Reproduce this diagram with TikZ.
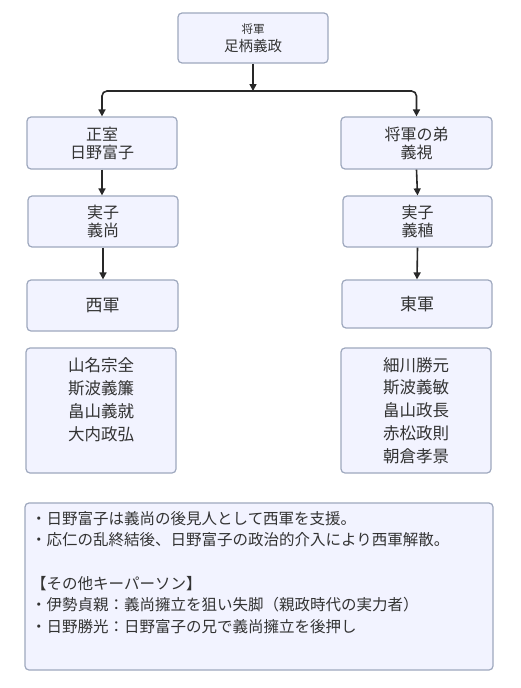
\documentclass[tikz,border=0pt]{standalone}
\usepackage{fontspec}
\setmainfont{Noto Sans CJK JP}
\usetikzlibrary{arrows.meta}
\definecolor{boxfill}{RGB}{242,243,255}
\definecolor{boxline}{RGB}{158,168,190}
\definecolor{txt}{RGB}{51,51,51}
\definecolor{arr}{RGB}{40,40,40}
\tikzset{
  box/.style={draw=boxline, fill=boxfill, line width=1.2pt, rounded corners=4pt, text=txt, align=center, inner sep=0pt},
  two/.style={font=\fontsize{16}{18}\selectfont},
  army/.style={font=\fontsize{17}{19}\selectfont},
  members/.style={font=\fontsize{16.5}{22.8}\selectfont},
  conn/.style={draw=arr, line width=1.6pt, -{Triangle[length=7pt,width=7pt]}},
}
\begin{document}
\begin{tikzpicture}[x=1pt,y=-1pt]
\useasboundingbox (0,0) rectangle (520,688);
\fill[white] (0,0) rectangle (520,688);
% top
\node[box, minimum width=150pt, minimum height=50pt, font=\fontsize{14.5}{17}\selectfont] (top) at (253,38)
  {{\fontsize{11.5}{13}\selectfont 将軍}\\[1pt]足柄義政};
% left column
\node[box, two, minimum width=150pt, minimum height=52pt] (fuji) at (102,143)
  {正室\\ 日野富子};
\node[box, two, minimum width=150pt, minimum height=51pt] (hisa) at (103,221.5)
  {実子\\ 義尚};
\node[box, army, minimum width=151pt, minimum height=51pt] (west) at (102.5,305.5)
  {西軍};
\node[box, members, minimum width=150pt, minimum height=125pt] (wmem) at (101,410.5)
  {山名宗全\\ 斯波義簾\\ 畠山義就\\ 大内政弘\\ \mbox{}};
% right column
\node[box, two, minimum width=151pt, minimum height=52pt] (yoshimi) at (416.5,143)
  {将軍の弟\\ 義視};
\node[box, two, minimum width=149pt, minimum height=51pt] (tane) at (417.5,221.5)
  {実子\\ 義稙};
\node[box, army, minimum width=150pt, minimum height=48pt] (east) at (417,304)
  {東軍};
\node[box, members, minimum width=150pt, minimum height=125pt] (emem) at (416,410.5)
  {細川勝元\\ 斯波義敏\\ 畠山政長\\ 赤松政則\\ 朝倉孝景};
% note
\node[box, minimum width=468pt, minimum height=167pt] (note) at (259,586.5) {};
\node[anchor=north west, align=left, text=txt, inner sep=0pt, font=\fontsize{15.5}{21.6}\selectfont] (notetext) at (31,511)
  {・日野富子は義尚の後見人として西軍を支援。\\
   ・応仁の乱終結後、日野富子の政治的介入により西軍解散。\\
   \mbox{}\\
   【その他キーパーソン】\\
   ・伊勢貞親：義尚擁立を狙い失脚（親政時代の実力者）\\
   ・日野勝光：日野富子の兄で義尚擁立を後押し};
% connectors
\coordinate (j) at (253,91);
\draw[conn] (top.south) -- (j);
\draw[conn, rounded corners=5pt] (j) -| (fuji.north);
\draw[conn, rounded corners=5pt] (j) -| (yoshimi.north);
\draw[conn] (fuji.south) -- (hisa.north -| fuji.south);
\draw[conn] (hisa.south) -- (west.north -| hisa.south);
\draw[conn] (yoshimi.south) -- (tane.north);
\draw[conn] (tane.south) -- (east.north);
\end{tikzpicture}
\end{document}
